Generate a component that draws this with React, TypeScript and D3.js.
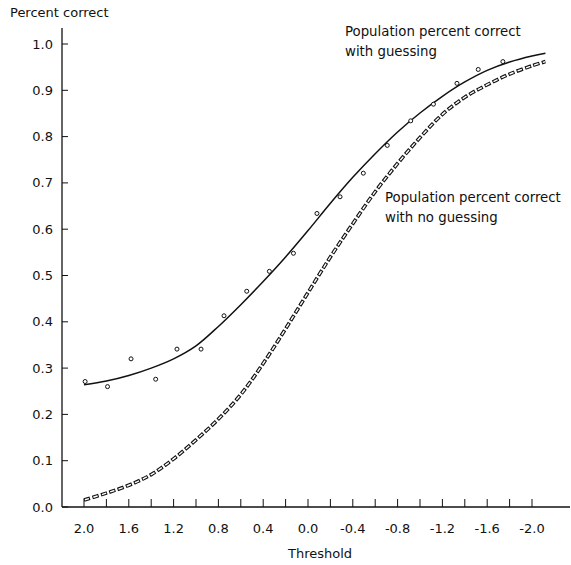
import React from "react";
import * as d3 from "d3";

const thresholds = [2.0, 1.8, 1.6, 1.4, 1.2, 1.0, 0.8, 0.6, 0.4, 0.2, 0.0, -0.2, -0.4, -0.6, -0.8, -1.0, -1.2, -1.4, -1.6, -1.8, -2.0, -2.12];
const withGuessing = [0.264, 0.272, 0.284, 0.3, 0.32, 0.348, 0.39, 0.437, 0.487, 0.54, 0.597, 0.656, 0.712, 0.763, 0.81, 0.851, 0.887, 0.918, 0.943, 0.961, 0.974, 0.98];
const noGuessing = [0.015, 0.03, 0.047, 0.07, 0.104, 0.145, 0.19, 0.243, 0.31, 0.385, 0.463, 0.54, 0.612, 0.681, 0.742, 0.798, 0.848, 0.885, 0.912, 0.935, 0.953, 0.962];
const obsThreshold = [1.99, 1.79, 1.58, 1.36, 1.17, 0.955, 0.75, 0.547, 0.345, 0.13, -0.08, -0.286, -0.494, -0.708, -0.917, -1.12, -1.33, -1.52, -1.74];
const obsCorrect = [0.271, 0.26, 0.32, 0.276, 0.341, 0.341, 0.413, 0.466, 0.509, 0.548, 0.634, 0.67, 0.721, 0.781, 0.834, 0.87, 0.915, 0.945, 0.962];
const xTickLabels = [2.0, 1.6, 1.2, 0.8, 0.4, 0.0, -0.4, -0.8, -1.2, -1.6, -2.0];
const xTicks = [2.0, 1.8, 1.6, 1.4, 1.2, 1.0, 0.8, 0.6, 0.4, 0.2, 0.0, -0.2, -0.4, -0.6, -0.8, -1.0, -1.2, -1.4, -1.6, -1.8, -2.0];
const yTicks = [0.0, 0.1, 0.2, 0.3, 0.4, 0.5, 0.6, 0.7, 0.8, 0.9, 1.0];

const FONT = "'DejaVu Sans', sans-serif";

export default function App() {
  const x = d3.scaleLinear().domain([2, -2]).range([84, 532]);
  const y = d3.scaleLinear().domain([0, 1]).range([507, 44]);
  const line = d3
    .line<[number, number]>()
    .x((d) => x(d[0]))
    .y((d) => y(d[1]))
    .curve(d3.curveCatmullRom.alpha(0.5));
  const solidPath = line(thresholds.map((t, i) => [t, withGuessing[i]] as [number, number])) || "";
  const dashPath = line(thresholds.map((t, i) => [t, noGuessing[i]] as [number, number])) || "";
  const fmt = (v: number) => (v === 0 ? "0.0" : v.toFixed(1));

  return (
    <svg
      width={571}
      height={565}
      style={{ position: "absolute", left: 0, top: 0, background: "#fff" }}
      fontFamily={FONT}
    >
      <rect x={0} y={0} width={571} height={565} fill="#fff" />
      {/* axes */}
      <line x1={62} x2={62} y1={28} y2={y(0)} stroke="#111" strokeWidth={1.3} />
      <line x1={62} x2={570} y1={y(0)} y2={y(0)} stroke="#111" strokeWidth={1.3} />
      {yTicks.map((v) => (
        <g key={"y" + v}>
          <line x1={62} x2={68} y1={y(v)} y2={y(v)} stroke="#111" strokeWidth={1} />
          <text x={53} y={y(v) + 4.5} textAnchor="end" fontSize={13} fill="#111">
            {fmt(v)}
          </text>
        </g>
      ))}
      {xTicks.map((t) => (
        <line key={"xt" + t} x1={x(t)} x2={x(t)} y1={y(0)} y2={y(0) - 8} stroke="#111" strokeWidth={1} />
      ))}
      {xTickLabels.map((t) => (
        <text key={"xl" + t} x={x(t)} y={533} textAnchor="middle" fontSize={13} fill="#111">
          {fmt(t)}
        </text>
      ))}
      <text x={10} y={17} fontSize={13} fill="#111">
        Percent correct
      </text>
      <text x={320} y={558} textAnchor="middle" fontSize={13} fill="#111">
        Threshold
      </text>
      {/* curves */}
      <path d={dashPath} fill="none" stroke="#111" strokeWidth={3.6} strokeDasharray="6.5 2.3" />
      <path d={dashPath} fill="none" stroke="#fff" strokeWidth={1.4} strokeDasharray="4.5 4.3" strokeDashoffset={-1} />
      <path d={solidPath} fill="none" stroke="#111" strokeWidth={1.5} />
      {obsThreshold.map((t, i) => (
        <circle key={"p" + i} cx={x(t)} cy={y(obsCorrect[i])} r={2} fill="#fff" stroke="#111" strokeWidth={1} />
      ))}
      {/* annotations */}
      <text x={345} y={36} fontSize={13.3} fill="#111">
        Population percent correct
      </text>
      <text x={345} y={56} fontSize={13.3} fill="#111">
        with guessing
      </text>
      <text x={385} y={202} fontSize={13.3} fill="#111">
        Population percent correct
      </text>
      <text x={385} y={222} fontSize={13.3} fill="#111">
        with no guessing
      </text>
    </svg>
  );
}
